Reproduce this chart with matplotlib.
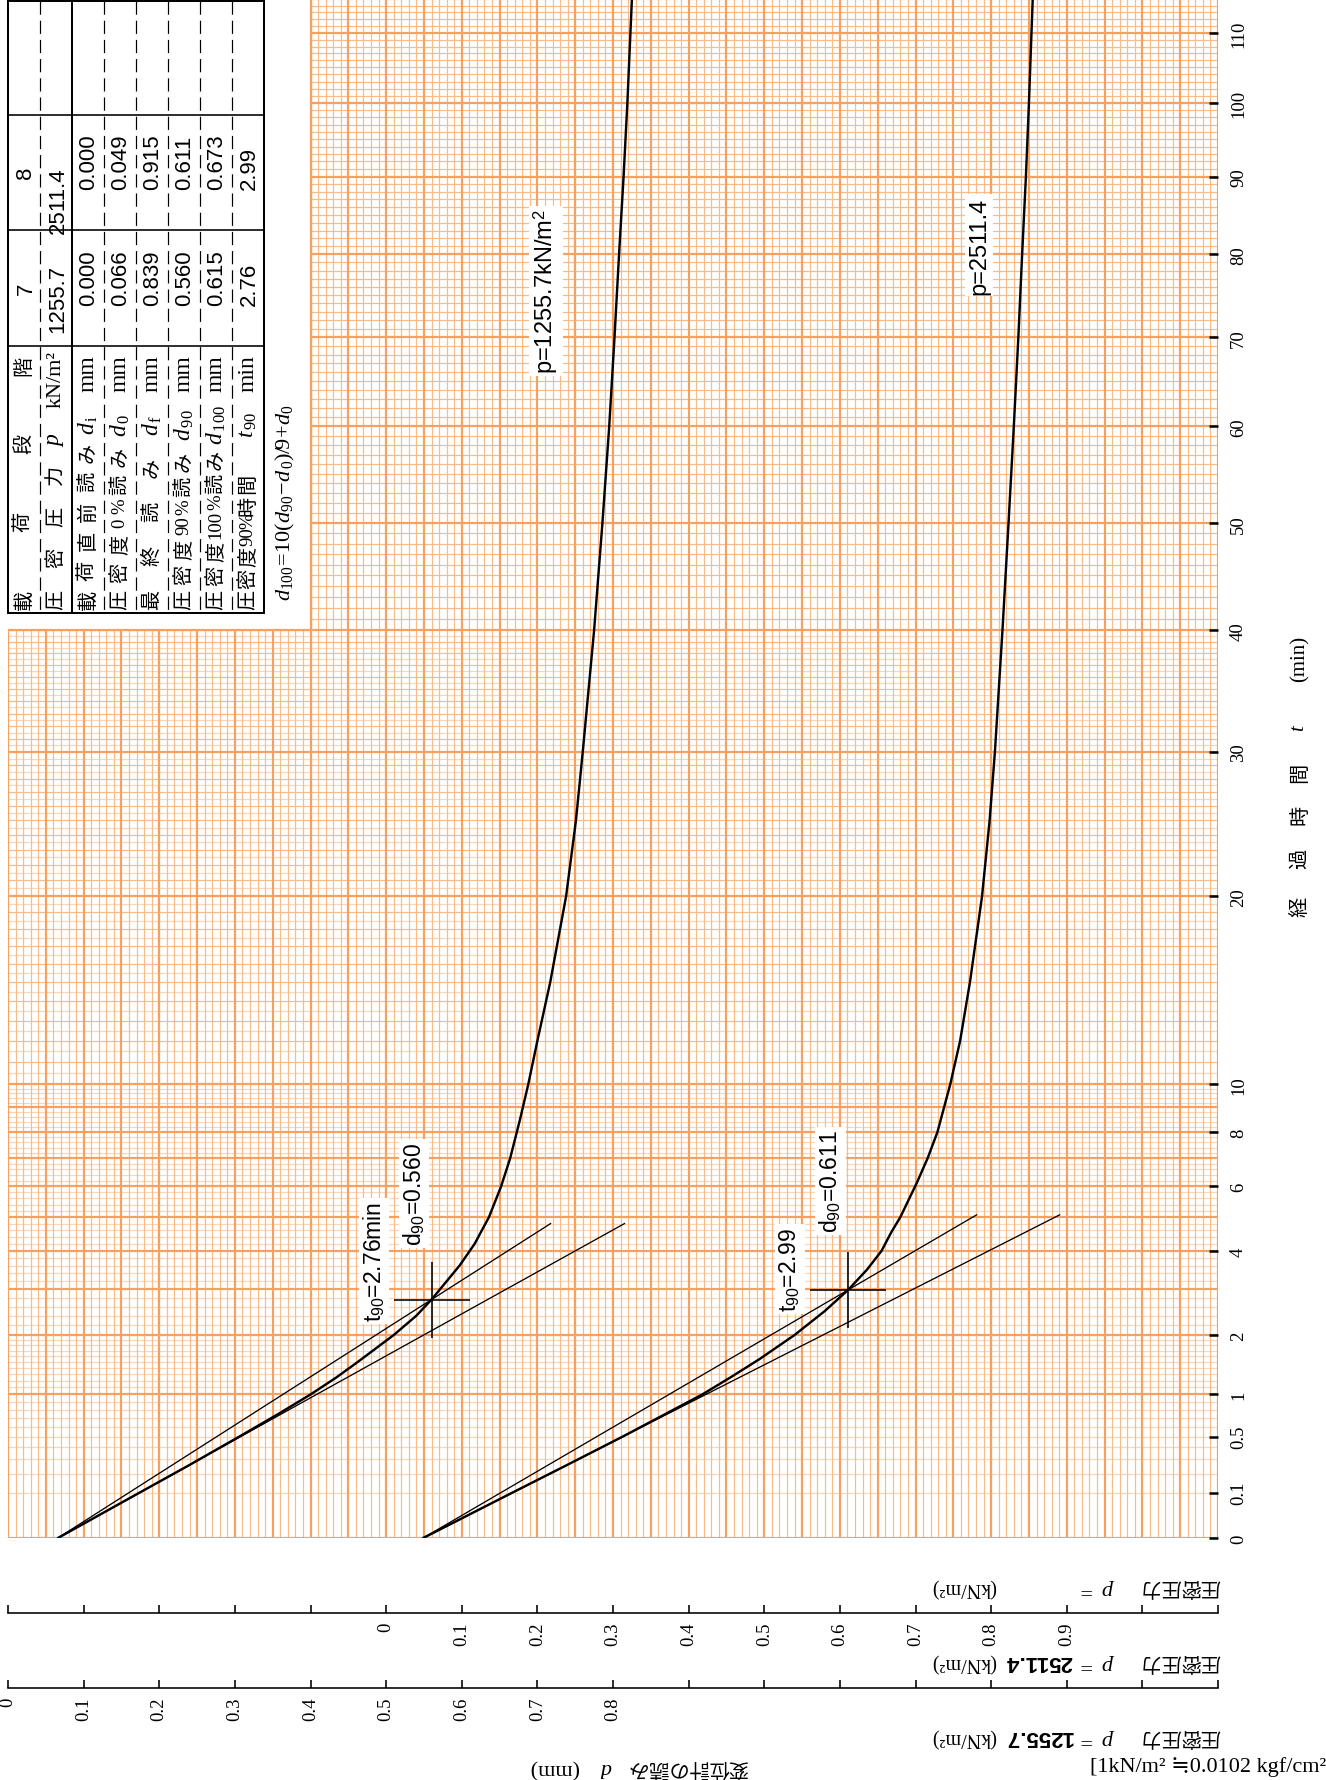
import matplotlib
matplotlib.use("Agg")
import matplotlib.pyplot as plt
import numpy as np
from matplotlib.patches import Rectangle
from matplotlib.ticker import FixedLocator, FixedFormatter

plt.rcParams["mathtext.fontset"] = "custom"
plt.rcParams["mathtext.rm"] = "Liberation Serif"
plt.rcParams["mathtext.it"] = "Liberation Serif:italic"
plt.rcParams["mathtext.sf"] = "Liberation Sans"

W, H = 1326, 1781

SERIF = ["Liberation Serif", "DejaVu Serif", "DejaVu Sans", "Noto Sans CJK JP"]
SANS = ["Liberation Sans", "DejaVu Sans", "Noto Sans CJK JP"]
CJK = ["Noto Sans CJK JP", "Liberation Serif"]

# loading steps and their settlement readings (mm, min)
STEPS = ["7", "8"]
PRESSURES = ["1255.7", "2511.4"]
D_I = [0.000, 0.000]
D_0 = [0.066, 0.049]
D_F = [0.839, 0.915]
D_90 = [0.560, 0.611]
D_100 = [0.615, 0.673]
T_90 = [2.76, 2.99]

# dial gauge readings vs elapsed time
T_CURVE_7 = [0, 0.1, 0.25, 0.5, 0.75, 1.0, 1.25, 1.5, 2.0, 2.4, 2.76, 3.2, 3.6, 4.2,
             5.0, 6.0, 7.0, 8.5, 10, 12, 15, 20, 25, 30, 40, 50, 60, 70, 80, 90, 100, 115]
D_CURVE_7 = [0.066, 0.174, 0.237, 0.306, 0.358, 0.400, 0.434, 0.462, 0.510, 0.540, 0.560,
             0.580, 0.597, 0.617, 0.636, 0.652, 0.664, 0.677, 0.688, 0.700, 0.717, 0.738,
             0.751, 0.760, 0.775, 0.786, 0.795, 0.802, 0.808, 0.814, 0.819, 0.825]
T_CURVE_8 = [0, 0.1, 0.25, 0.5, 0.75, 1.0, 1.25, 1.556, 2.0, 2.5, 2.99, 3.5, 4.0, 4.54,
             5.0, 6.14, 7.0, 8.0, 10, 12, 15, 20, 25, 30, 40, 50, 60, 70, 80, 90, 100, 115]
D_CURVE_8 = [0.049, 0.167, 0.236, 0.313, 0.370, 0.418, 0.455, 0.494, 0.540, 0.580, 0.611,
             0.636, 0.655, 0.668, 0.680, 0.702, 0.716, 0.729, 0.746, 0.759, 0.772, 0.788,
             0.798, 0.805, 0.815, 0.823, 0.830, 0.836, 0.841, 0.846, 0.850, 0.855]

# zero of each step's gauge scale on the common plotting scale
SCALE_ZERO = [0.0, 0.5]
TANGENT_T_END = [4.8, 5.07]
SQRT_T_RATIO = 1.15

T_TICKS = [0, 0.1, 0.5, 1, 2, 4, 6, 8, 10, 20, 30, 40, 50, 60, 70, 80, 90, 100, 110]
T_TICK_LABELS = ["0", "0.1", "0.5", "1", "2", "4", "6", "8", "10", "20", "30", "40",
                 "50", "60", "70", "80", "90", "100", "110"]
D_TICKS_7 = [round(0.1 * i, 1) for i in range(17)]
D_LABELS_7 = ["0", "0.1", "0.2", "0.3", "0.4", "0.5", "0.6", "0.7", "0.8"]
D_TICKS_8 = [round(-0.5 + 0.1 * i, 1) for i in range(17)]
D_LABELS_8 = ["", "", "", "", "", "0", "0.1", "0.2", "0.3", "0.4", "0.5", "0.6", "0.7",
              "0.8", "0.9"]

ORANGE_MAJOR = "#f7a060"
ORANGE_MINOR = "#f9bb88"
ORANGE_PALE = "#fcd6b6"


def px_rect(x0, y0, x1, y1):
    return [x0 / W, 1 - y1 / H, (x1 - x0) / W, (y1 - y0) / H]


def pt(px):
    return px * 72 / 100


fig = plt.figure(figsize=(W / 100, H / 100), dpi=100)

# ---- sqrt(t) graph paper ----
ax = fig.add_axes(px_rect(8, 0, 1218, 1539))
ax.set_yscale("function", functions=(lambda v: np.sqrt(np.clip(v, 0, None)), np.square))
ax.set_xlim(0, 1.6)
ax.set_ylim(0, 115)
for s in ax.spines.values():
    s.set_visible(False)

d_lines = np.arange(161) * 0.01
is_major_d = np.arange(161) % 5 == 0
ax.vlines(d_lines[~is_major_d], 0, 115, color=ORANGE_MINOR, lw=pt(1.2), zorder=1)
ax.vlines(d_lines[is_major_d], 0, 115, color=ORANGE_MAJOR, lw=pt(2.2), zorder=1.2)

t_lines = np.unique(np.round(np.concatenate([
    np.arange(0, 1, 0.1), np.arange(1, 2, 0.1), np.arange(2, 10, 0.2),
    np.arange(10, 40, 0.5), np.arange(40, 116, 1)]), 2))
t_major = np.isclose(t_lines, np.round(t_lines)) & ((t_lines <= 10) | np.isclose(t_lines % 10, 0))
t_mid = np.isclose(t_lines, np.round(t_lines)) & ~t_major
t_pale = ~(t_major | t_mid)
ax.hlines(t_lines[t_pale], 0, 1.6, color=ORANGE_PALE, lw=pt(1.2), zorder=0.9)
ax.hlines(t_lines[t_mid], 0, 1.6, color=ORANGE_MINOR, lw=pt(1.2), zorder=1)
ax.hlines(t_lines[t_major], 0, 1.6, color=ORANGE_MAJOR, lw=pt(2.2), zorder=1.2)

# blank corner under the data table
ax.add_patch(Rectangle((0, 40), 0.4, 80, facecolor="white", edgecolor="none", zorder=2))
ax.vlines([0.4], 40, 115, color=ORANGE_MAJOR, lw=pt(2.2), zorder=2.1)
ax.hlines([40], 0, 0.4, color=ORANGE_MAJOR, lw=pt(2.2), zorder=2.1)

ax.set_xticks([])
ax.yaxis.set_ticks_position("right")
ax.yaxis.set_major_locator(FixedLocator(T_TICKS))
ax.yaxis.set_major_formatter(FixedFormatter(T_TICK_LABELS))
ax.yaxis.set_minor_locator(FixedLocator([]))
ax.tick_params(axis="y", direction="in", length=pt(9), width=pt(2.5), color="black",
               pad=pt(12), labelsize=13.5)
for lab in ax.get_yticklabels():
    lab.set_rotation(90)
    lab.set_va("center")
    lab.set_ha("left")
    lab.set_family(SERIF)

# ---- settlement curves and sqrt(t) construction ----
curves = [(T_CURVE_7, D_CURVE_7), (T_CURVE_8, D_CURVE_8)]
for i, (tc, dc) in enumerate(curves):
    shift = SCALE_ZERO[i]
    ax.plot(np.array(dc) + shift, tc, color="black", lw=pt(2.4), zorder=5,
            solid_capstyle="round")
    slope = SQRT_T_RATIO * (D_90[i] - D_0[i]) / np.sqrt(T_90[i])
    tt = np.array([0, TANGENT_T_END[i]])
    ax.plot(D_0[i] + slope * np.sqrt(tt) + shift, tt, color="black", lw=pt(1.3), zorder=4)
    ax.plot(D_0[i] + slope / SQRT_T_RATIO * np.sqrt(tt) + shift, tt, color="black",
            lw=pt(1.3), zorder=4)
    ax.plot([D_90[i] + shift], [T_90[i]], marker="+", ms=pt(76), mew=pt(1.6),
            color="black", zorder=6)

box = dict(facecolor="white", edgecolor="none", pad=2)
ann_offsets = [((-12.6, 76.5), (-41.4, 28.0)), ((-12.5, 78.3), (-42.0, 15.0))]
t_text = ["t$_{\\mathsf{90}}$=%.2fmin", "t$_{\\mathsf{90}}$=%.2f"]
for i in range(2):
    xy = (D_90[i] + SCALE_ZERO[i], T_90[i])
    ax.annotate("d$_{\\mathsf{90}}$=%.3f" % D_90[i], xy, xytext=ann_offsets[i][0],
                textcoords="offset points", rotation=90, ha="center", va="center",
                fontsize=16.5, family=SANS, bbox=box, zorder=7)
    ax.annotate(t_text[i] % T_90[i], xy, xytext=ann_offsets[i][1],
                textcoords="offset points", rotation=90, ha="center", va="center",
                fontsize=16.5, family=SANS, bbox=box, zorder=7)

# ---- gauge scales under the grid ----
for ypix, ticks, labels, lim in [(1689, D_TICKS_7, D_LABELS_7, (0, 1.6)),
                                 (1614, D_TICKS_8, D_LABELS_8, (-0.5, 1.1))]:
    sax = fig.add_axes(px_rect(8, ypix - 1, 1218, ypix))
    sax.set_xlim(*lim)
    for side in ["top", "left", "right"]:
        sax.spines[side].set_visible(False)
    sax.spines["bottom"].set_linewidth(pt(1.6))
    sax.set_yticks([])
    sax.xaxis.set_major_locator(FixedLocator(ticks))
    sax.xaxis.set_major_formatter(FixedFormatter(labels + [""] * (len(ticks) - len(labels))))
    sax.tick_params(axis="x", direction="in", length=pt(8), width=pt(1.6), pad=pt(9),
                    labelsize=13.5)
    for lab in sax.get_xticklabels():
        lab.set_rotation(90)
        lab.set_family(SERIF)
    sax.patch.set_visible(False)

# ---- page overlay: table and captions ----
page = fig.add_axes([0, 0, 1, 1], zorder=5)
page.set_xlim(0, W)
page.set_ylim(H, 0)
page.axis("off")


def vtext(x, y, s, size, family, **kw):
    page.text(x, y, s, rotation=90, ha="center", va="center", rotation_mode="anchor",
              fontsize=size, family=family, **kw)


def is_wide(tok):
    return ord(tok[0]) > 255


def spread(x, tokens, y_start, y_end, size=14.5):
    # lay out tokens bottom-to-top, justified between y_start and y_end
    widths = [20.0 if is_wide(tok) else 9.0 * len(tok) for tok in tokens]
    gap = (y_start - y_end - sum(widths)) / max(len(tokens) - 1, 1)
    pos = y_start
    for tok, w in zip(tokens, widths):
        if is_wide(tok):
            vtext(x, pos - w / 2, tok, size, CJK)
        else:
            vtext(x, pos - w / 2, tok, size - 1, SERIF)
        pos -= w + gap


tx0, tx1 = 8, 264
ty0, ty1 = 2, 614
row_edges = tx0 + 32 * np.arange(9)
col_edges = [116, 231, 347]
page.add_patch(Rectangle((tx0, ty0), tx1 - tx0, ty1 - ty0, facecolor="none",
                         edgecolor="black", lw=pt(2.0)))
page.plot([row_edges[2], row_edges[2]], [ty0, ty1], color="black", lw=pt(2.0))
for yc in col_edges:
    page.plot([tx0, tx1], [yc, yc], color="black", lw=pt(1.6))
for k in [1, 3, 4, 5, 6, 7]:
    page.plot([row_edges[k], row_edges[k]], [ty0, ty1], color="black", lw=pt(1.2),
              dashes=(11, 5))

rc = row_edges[:-1] + 16
spread(rc[0], ["載", "荷", "段", "階"], 610, 356)
spread(rc[1], ["圧", "密", "圧", "力"], 610, 465)
vtext(rc[1], 440, "$p$", 17, SERIF)
vtext(rc[1], 380, "kN/m²", 16, SERIF)
row_labels = [["載", "荷", "直", "前", "読", "み"],
              ["圧", "密", "度", "0", "%", "読", "み"],
              ["最", "終", "読", "み"],
              ["圧", "密", "度", "90", "%", "読", "み"],
              ["圧", "密", "度", "100", "%", "読", "み"],
              ["圧", "密", "度", "90", "%", "時", "間"]]
row_ends = [443, 447, 458, 452, 450, 474]
row_syms = [r"$d_{\,\mathrm{i}}$", r"$d_{\,\mathrm{0}}$", r"$d_{\,\mathrm{f}}$",
            r"$d_{\,\mathrm{90}}$", r"$d_{\,\mathrm{100}}$", r"$t_{\,\mathrm{90}}$"]
row_units = ["mm", "mm", "mm", "mm", "mm", "min"]
for k in range(6):
    spread(rc[k + 2], row_labels[k], 610, row_ends[k])
    vtext(rc[k + 2], 425, row_syms[k], 17, SERIF)
    vtext(rc[k + 2], 374, row_units[k], 17, SERIF)

col_centres = [289, 173]
for j in range(2):
    vtext(rc[0] + 2, col_centres[j], STEPS[j], 16, SANS)
    vtext(rc[1] + 2, col_centres[j] + 10 + (0 if j == 0 else 18), PRESSURES[j], 16, SANS)
    vals = ["%.3f" % D_I[j], "%.3f" % D_0[j], "%.3f" % D_F[j], "%.3f" % D_90[j],
            "%.3f" % D_100[j], "%.2f" % T_90[j]]
    start = 306 if j == 0 else 190
    for k, v in enumerate(vals):
        page.text(rc[k + 2] + 1, start, v, rotation=90, ha="left", va="center",
                  rotation_mode="anchor", fontsize=16, family=SANS)

vtext(285, 503, r"$d_{100}\!=\!10(d_{90}\!-\!d_{\,0})/9\!+\!d_0$", 16, SERIF)

# curve captions
vtext(546, 292, r"p=1255.7kN/m$^{\mathsf{2}}$", 17, SANS,
      bbox=dict(facecolor="white", edgecolor="none", pad=2))
vtext(979, 246, "p=2511.4", 17, SANS,
      bbox=dict(facecolor="white", edgecolor="none", pad=2))

# time axis caption
for ch, yc in zip(["経", "過", "時", "間"], [907, 859, 815, 773]):
    vtext(1300, yc, ch, 14.5, CJK)
vtext(1300, 728, "$t$", 15, SERIF)
vtext(1300, 659, "(min)", 15, SERIF)


def utext(x, y, s, size, family, **kw):
    page.text(x, y, s, rotation=180, ha="center", va="center", rotation_mode="anchor",
              fontsize=size, family=family, **kw)


for yc, pval in [(1587, ""), (1662, PRESSURES[1]), (1737, PRESSURES[0])]:
    utext(1180, yc, "圧密圧力", 14.5, CJK)
    utext(1098, yc, r"$p\ =$", 16, SERIF)
    if pval:
        utext(1039, yc, pval, 16, SANS, weight="bold")
    utext(964, yc, "(kN/m²)", 14.5, SERIF)

utext(688, 1768, "変位計の読み", 14.5, CJK)
utext(606, 1768, "$d$", 16, SERIF)
utext(553, 1768, "(mm)", 16, SERIF)

page.text(1090, 1767, "[1kN/m² ≒0.0102 kgf/cm²]", ha="left", va="center",
          fontsize=16, family=SERIF)

fig.savefig("out.png", dpi=100)
